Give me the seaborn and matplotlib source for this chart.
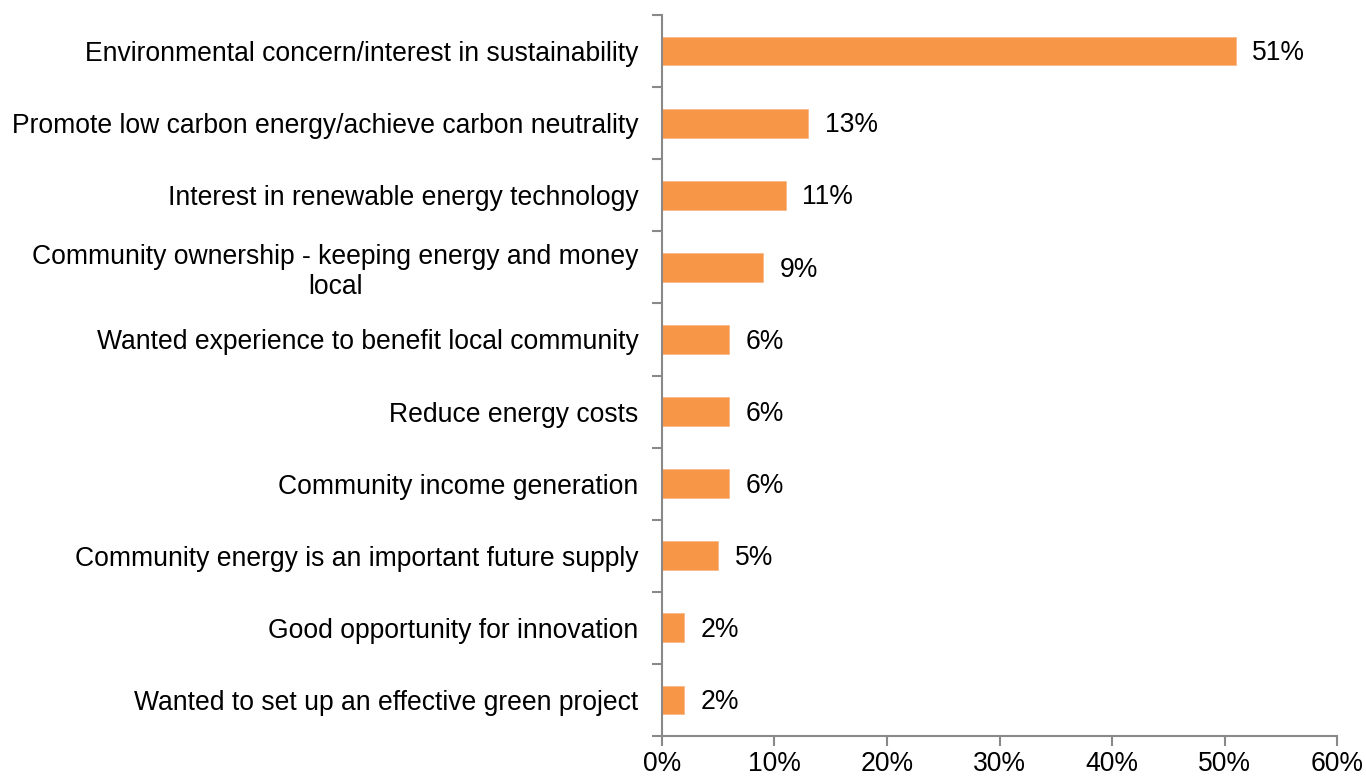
import matplotlib
matplotlib.use("Agg")
import matplotlib.pyplot as plt
import seaborn as sns
import pandas as pd
import numpy as np

reasons = [
    "Environmental concern/interest in sustainability",
    "Promote low carbon energy/achieve carbon neutrality",
    "Interest in renewable energy technology",
    "Community ownership - keeping energy and money\nlocal",
    "Wanted experience to benefit local community",
    "Reduce energy costs",
    "Community income generation",
    "Community energy is an important future supply",
    "Good opportunity for innovation",
    "Wanted to set up an effective green project",
]
shares = [51, 13, 11, 9, 6, 6, 6, 5, 2, 2]
x_ticks = [0, 10, 20, 30, 40, 50, 60]

sns.set_theme(style="white")
plt.rcParams["font.family"] = ["Liberation Sans", "DejaVu Sans"]

df = pd.DataFrame({"reason": reasons, "share": shares})

fig = plt.figure(figsize=(13.66, 7.78), dpi=100)
ax = fig.add_axes([0.4846, 0.054, 0.4942, 0.9267])

sns.barplot(data=df, y="reason", x="share", orient="h", color="#F79646",
            saturation=1, width=0.4, ax=ax, edgecolor="#FAB889", linewidth=0.6)

fs = 19.1
for p, v in zip(ax.patches, shares):
    ax.text(p.get_width() + 1.45, p.get_y() + p.get_height() / 2 + 0.03, f"{v}%",
            va="center", ha="left", fontsize=fs, color="black")

n = len(reasons)
ax.set_xlim(0, 60)
ax.set_ylim(n - 0.5, -0.5)
ax.set_xticks(x_ticks)
ax.set_xticklabels([f"{t}%" for t in x_ticks])
ax.set_yticks(np.arange(n))
ax.set_yticklabels(reasons, multialignment="center", linespacing=1.2)
ax.set_yticks(np.arange(n + 1) - 0.5, minor=True)
ax.set_xlabel("")
ax.set_ylabel("")

grey = "#898989"
for side in ["top", "right"]:
    ax.spines[side].set_visible(False)
for side in ["left", "bottom"]:
    ax.spines[side].set_color(grey)
    ax.spines[side].set_linewidth(1.5)

ax.tick_params(axis="y", which="major", length=0, pad=17, labelsize=fs, labelcolor="black")
ax.tick_params(axis="y", which="minor", length=7, width=1.5, color=grey, left=True)
ax.tick_params(axis="x", which="major", length=7, width=1.5, color=grey, bottom=True,
               direction="out", pad=4, labelsize=fs, labelcolor="black")
ax.grid(False)

fig.savefig("out.png", dpi=100, facecolor="white")
